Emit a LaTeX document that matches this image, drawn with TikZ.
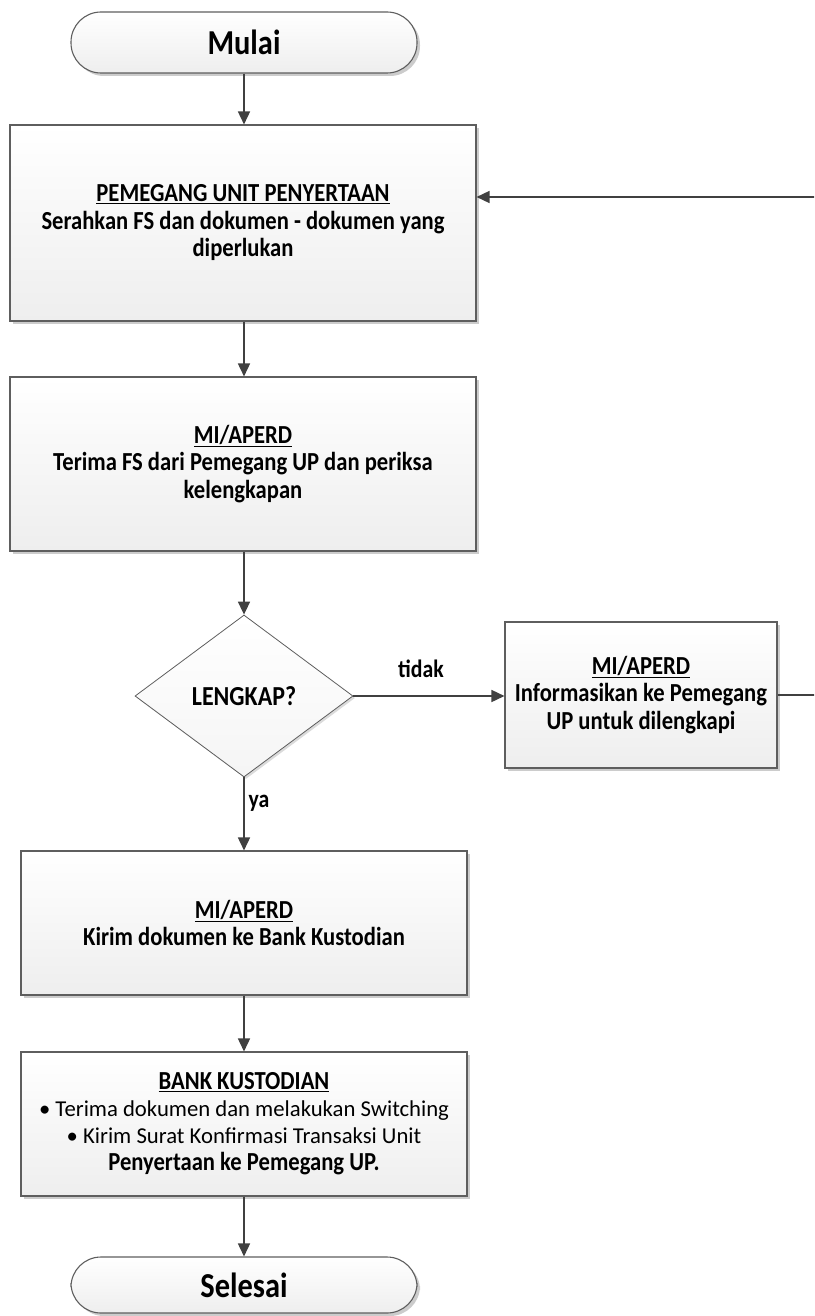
\documentclass[tikz,border=0pt]{standalone}
\usepackage{fontspec}
\setmainfont{Carlito}[BoldFeatures={FakeStretch=0.87}]
\usetikzlibrary{shapes.geometric,shadows,arrows.meta}
\definecolor{boxline}{HTML}{5E5E5E}
\definecolor{boxbot}{HTML}{EEEEEE}
\definecolor{shadowc}{HTML}{CCCCCC}
\definecolor{linec}{HTML}{404040}
\begin{document}
\begin{tikzpicture}[x=1pt,y=-1pt,
  boxst/.style={rectangle, draw=boxline, line width=1.1pt, top color=white, bottom color=boxbot,
    drop shadow={shadow xshift=3pt, shadow yshift=-3pt, fill=shadowc, opacity=1},
    align=center, font=\bfseries\fontsize{26}{27.5}\selectfont, inner sep=0pt},
  term/.style={boxst, rounded corners=30pt, font=\bfseries\fontsize{35}{38}\selectfont},
  dec/.style={diamond, draw=boxline, line width=0.8pt, top color=white, bottom color=boxbot!60, inner sep=0pt,
    drop shadow={shadow xshift=2pt, shadow yshift=-2pt, fill=shadowc!70, opacity=1},
    font=\bfseries\fontsize{27.5}{30}\selectfont},
  conn/.style={draw=linec, line width=1.6pt, -{Triangle[length=13pt,width=12pt]}},
  lbl/.style={font=\bfseries\fontsize{25}{27}\selectfont, inner sep=0pt}
]
\path[use as bounding box, clip] (0,0) rectangle (814,1316);

\node[term, minimum width=346pt, minimum height=61pt] (mulai) at (244,42.5) {Mulai};
\node[boxst, minimum width=466pt, minimum height=196pt] (b1) at (243,223)
  {\underline{PEMEGANG UNIT PENYERTAAN}\\Serahkan FS dan dokumen - dokumen yang\\diperlukan};
\node[boxst, minimum width=466pt, minimum height=174pt] (b2) at (243,464)
  {\underline{MI/APERD}\\Terima FS dari Pemegang UP dan periksa\\kelengkapan};
\node[dec, minimum width=218pt, minimum height=162pt] (d) at (244,696) {LENGKAP?};
\node[boxst, minimum width=272pt, minimum height=146pt] (b3) at (641,695)
  {\underline{MI/APERD}\\Informasikan ke Pemegang\\UP untuk dilengkapi};
\node[boxst, minimum width=446pt, minimum height=144pt] (b4) at (244,923)
  {\underline{MI/APERD}\\Kirim dokumen ke Bank Kustodian};
\node[boxst, minimum width=446pt, minimum height=144pt, font=\fontsize{22.7}{27}\selectfont] (b5) at (244,1124)
  {\fontsize{26}{27}\bfseries\underline{BANK KUSTODIAN}\\• Terima dokumen dan melakukan Switching\\• Kirim Surat Konfirmasi Transaksi Unit\\\fontsize{26}{27}\bfseries Penyertaan ke Pemegang UP.};
\node[term, minimum width=346pt, minimum height=56pt] (selesai) at (244,1285) {Selesai};

\node[lbl] (tidak) at (421,669) {tidak};
\node[lbl] (ya) at (259,803) {ya};

\coordinate (looptop) at (822,197);

\draw[conn] (mulai) -- (mulai |- b1.north);
\draw[conn] (b1.south -| d.north) -- (d.north |- b2.north);
\draw[conn] (b2.south -| d.north) -- (d.north);
\draw[conn] (d.east) -- (d.east -| b3.west);
\draw[conn] (d.south) -- (d.south |- b4.north);
\draw[conn] (b4) -- (b5);
\draw[conn] (b5) -- (selesai);
\draw[conn] (b3.east) -- (b3.east -| looptop) -- (looptop) -- (looptop -| b1.east);
\end{tikzpicture}
\end{document}
